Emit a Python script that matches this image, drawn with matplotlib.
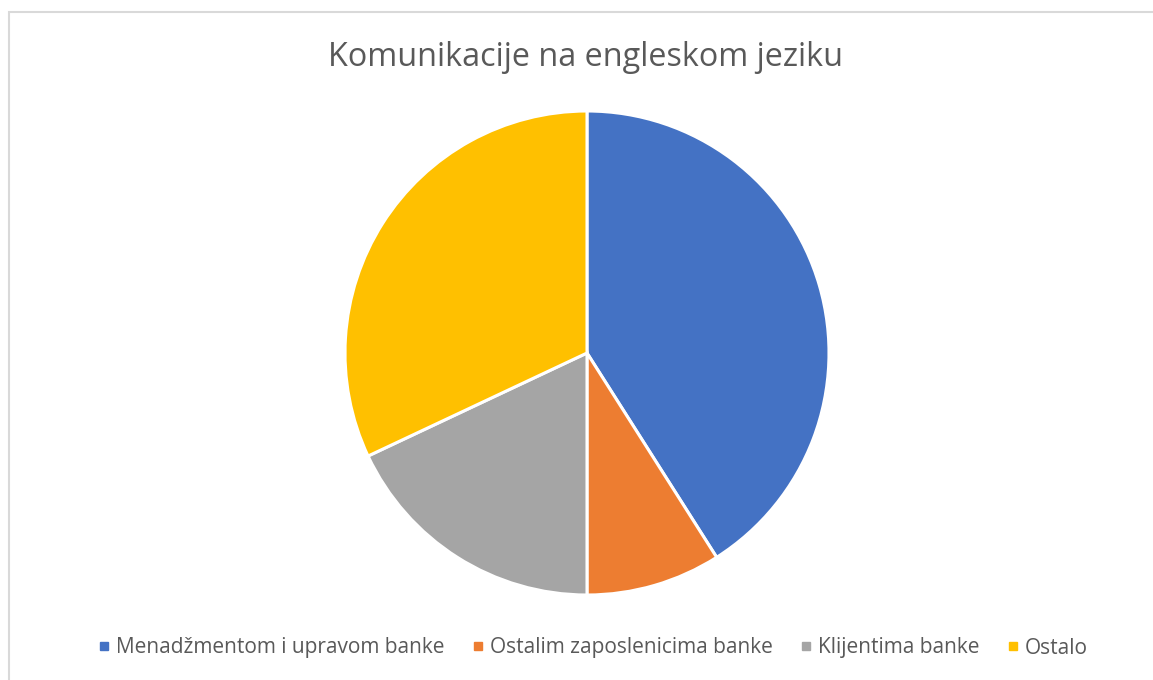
import matplotlib
matplotlib.use("Agg")
import matplotlib.pyplot as plt
from matplotlib.patches import Rectangle
from matplotlib.lines import Line2D

title = "Komunikacije na engleskom jeziku"
categories = ["Menadžmentom i upravom banke", "Ostalim zaposlenicima banke", "Klijentima banke", "Ostalo"]
values = [41, 9, 18, 32]
colors = ["#4472C4", "#ED7D31", "#A5A5A5", "#FFC000"]

plt.rcParams['font.family'] = ['Open Sans', 'DejaVu Sans']

W, H = 1153, 680
fig = plt.figure(figsize=(W / 100, H / 100), dpi=100)
fig.patch.set_facecolor("white")

# chart border
fig.add_artist(Rectangle((9 / W, -0.05), 1.2, (680 - 12) / H + 0.05, transform=fig.transFigure,
                         fill=False, edgecolor="#D9D9D9", linewidth=1.5))

cx, cy, r = 587, 353, 242
ax = fig.add_axes([(cx - r) / W, (H - cy - r) / H, 2 * r / W, 2 * r / H])
ax.pie(values, colors=colors, startangle=90, counterclock=False,
       wedgeprops=dict(edgecolor="white", linewidth=2.2, joinstyle="miter"))
ax.set_xlim(-1.0, 1.0)
ax.set_ylim(-1.0, 1.0)
ax.set_aspect("equal")
ax.axis("off")

fig.text(586 / W, 1 - 57 / H, title, ha="center", va="center", fontsize=23.3, color="#595959")

handles = [Line2D([0], [0], marker="s", linestyle="none", markersize=6,
                  markerfacecolor=c, markeredgecolor=c) for c in colors]
fig.legend(handles, categories, loc="center", bbox_to_anchor=(593 / W, 1 - 648 / H), ncol=4,
           frameon=False, fontsize=15, labelcolor="#595959", handlelength=0.6,
           handletextpad=0.28, columnspacing=1.3, borderpad=0, borderaxespad=0)

fig.savefig("out.png", dpi=100)
